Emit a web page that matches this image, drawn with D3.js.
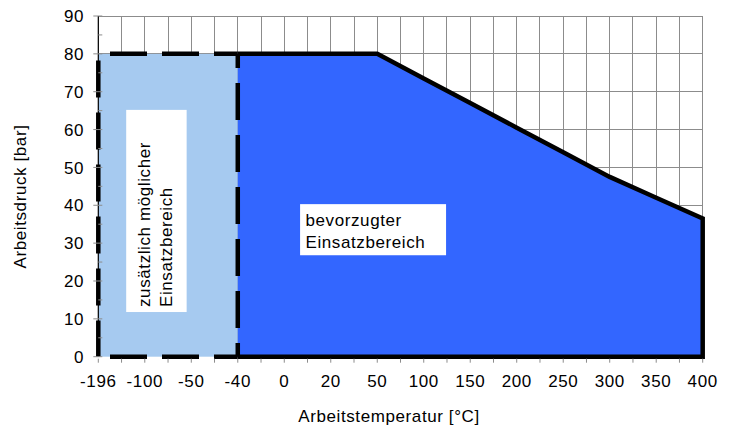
<!DOCTYPE html>
<html>
<head>
<meta charset="utf-8">
<script src="https://cdn.jsdelivr.net/npm/d3@7"></script>
<style>
  body { margin: 0; background: #fff; }
  text { font-family: "Liberation Sans", Arial, sans-serif; font-size: 17px; letter-spacing: 0.6px; fill: #000; }
</style>
</head>
<body>
<svg id="chart"></svg>
<script>
// temperature categories (equally spaced on the chart)
var categories = ["-196", "-100", "-50", "-40", "0", "20", "50", "100", "150", "200", "250", "300", "350", "400"];
// preferred operating range: pressure [bar] per temperature, starts at -40
var preferredTemp = ["-40", "0", "20", "50", "100", "150", "200", "250", "300", "350", "400"];
var preferredPressure = [80, 80, 80, 80, 73.5, 67, 60.5, 54, 47.5, 42, 36.5];
// additionally possible range
var extraTemp = ["-196", "-40"];
var extraPressure = [80, 80];
var yTicks = [0, 10, 20, 30, 40, 50, 60, 70, 80, 90];

var width = 733, height = 428;
var margin = {top: 16, right: 30.3, bottom: 71.3, left: 98.3};

var svg = d3.select("#chart").attr("width", width).attr("height", height);

var x = d3.scalePoint()
    .domain(categories)
    .range([margin.left, width - margin.right]);

// index scale for half steps / annotations
var xi = d3.scaleLinear()
    .domain([0, categories.length - 1])
    .range([margin.left, width - margin.right]);

var y = d3.scaleLinear()
    .domain([0, 90])
    .range([height - margin.bottom, margin.top]);

var gridColor = "#8c8c8c";
var halfSteps = d3.range(0, (categories.length - 1) * 2 + 1).map(function(d) { return d / 2; });

// grid
svg.append("g").selectAll("line.v")
  .data(halfSteps)
  .enter().append("line")
  .attr("x1", function(d) { return xi(d); })
  .attr("x2", function(d) { return xi(d); })
  .attr("y1", y(0)).attr("y2", y(90))
  .attr("stroke", gridColor).attr("stroke-width", 1)
  .attr("shape-rendering", "crispEdges");

svg.append("g").selectAll("line.h")
  .data(yTicks.slice(1))
  .enter().append("line")
  .attr("x1", xi(0)).attr("x2", xi(categories.length - 1))
  .attr("y1", function(d) { return y(d); })
  .attr("y2", function(d) { return y(d); })
  .attr("stroke", gridColor).attr("stroke-width", 1)
  .attr("shape-rendering", "crispEdges");

// extra range (light blue)
svg.append("rect")
  .attr("x", x(extraTemp[0]))
  .attr("y", y(extraPressure[0]))
  .attr("width", x(extraTemp[1]) - x(extraTemp[0]))
  .attr("height", y(0) - y(extraPressure[0]))
  .attr("fill", "#a6caf0");

// preferred range (blue)
var pts = preferredTemp.map(function(t, i) { return [x(t), y(preferredPressure[i])]; });
var area = d3.area()
  .x(function(d) { return d[0]; })
  .y0(y(0))
  .y1(function(d) { return d[1]; });
svg.append("path")
  .datum(pts)
  .attr("d", area)
  .attr("fill", "#3366ff");

// solid outline: top, right side and bottom
var outline = pts.concat([[x(preferredTemp[preferredTemp.length - 1]), y(0)], [x(preferredTemp[0]), y(0)]]);
svg.append("path")
  .attr("d", d3.line()(outline))
  .attr("fill", "none")
  .attr("stroke", "#000")
  .attr("stroke-width", 4.5)
  .attr("stroke-linejoin", "miter");

// dashed outline of the extra range
var ex0 = x(extraTemp[0]), ex1 = x(extraTemp[1]), ey0 = y(0), ey1 = y(extraPressure[0]);
var dashEdges = [
  {x1: ex0, y1: ey1, x2: ex1, y2: ey1, off: 40.3},
  {x1: ex0, y1: ey0, x2: ex1, y2: ey0, off: 40.3},
  {x1: ex0, y1: ey1, x2: ex0, y2: ey0, off: 45.3},
  {x1: ex1, y1: ey0, x2: ex1, y2: ey1, off: 23.3}
];
svg.append("g").selectAll("line")
  .data(dashEdges)
  .enter().append("line")
  .attr("x1", function(d) { return d.x1; })
  .attr("y1", function(d) { return d.y1; })
  .attr("x2", function(d) { return d.x2; })
  .attr("y2", function(d) { return d.y2; })
  .attr("stroke", "#000")
  .attr("stroke-width", 4.5)
  .attr("stroke-dasharray", "37,15")
  .attr("stroke-dashoffset", function(d) { return d.off; });

// left axis line
svg.append("line")
  .attr("x1", margin.left).attr("x2", margin.left)
  .attr("y1", y(0)).attr("y2", y(90))
  .attr("stroke", "#000").attr("stroke-width", 1.2);

// y ticks (major crossing, minor inside)
svg.append("g").selectAll("line")
  .data(yTicks)
  .enter().append("line")
  .attr("x1", margin.left - 5).attr("x2", margin.left + 4)
  .attr("y1", function(d) { return y(d); })
  .attr("y2", function(d) { return y(d); })
  .attr("stroke", gridColor);

svg.append("g").selectAll("line")
  .data(yTicks.slice(1).map(function(d) { return d - 5; }))
  .enter().append("line")
  .attr("x1", margin.left).attr("x2", margin.left + 4)
  .attr("y1", function(d) { return y(d); })
  .attr("y2", function(d) { return y(d); })
  .attr("stroke", gridColor);

// x ticks at half steps
svg.append("g").selectAll("line")
  .data(halfSteps)
  .enter().append("line")
  .attr("x1", function(d) { return xi(d); })
  .attr("x2", function(d) { return xi(d); })
  .attr("y1", y(0) + 2).attr("y2", y(0) + 6)
  .attr("stroke", gridColor);

// tick labels
svg.append("g").selectAll("text")
  .data(yTicks)
  .enter().append("text")
  .attr("x", 84)
  .attr("y", function(d) { return y(d); })
  .attr("dy", "0.36em")
  .attr("text-anchor", "end")
  .text(function(d) { return d; });

svg.append("g").selectAll("text")
  .data(categories)
  .enter().append("text")
  .attr("x", function(d) { return x(d); })
  .attr("y", 387)
  .attr("text-anchor", "middle")
  .text(function(d) { return d; });

// axis titles
svg.append("text")
  .attr("x", 389).attr("y", 421.5)
  .attr("text-anchor", "middle")
  .text("Arbeitstemperatur [°C]");

svg.append("text")
  .attr("transform", "translate(26,196.5) rotate(-90)")
  .attr("text-anchor", "middle")
  .text("Arbeitsdruck [bar]");

// annotation: additional range (rotated)
svg.append("rect")
  .attr("x", xi(0.6)).attr("y", y(65.2))
  .attr("width", xi(1.9) - xi(0.6))
  .attr("height", y(11.8) - y(65.2))
  .attr("fill", "#fff");

var rot = svg.append("text")
  .attr("transform", "translate(150,307) rotate(-90)");
rot.append("tspan").attr("x", 0).attr("y", 0).text("zusätzlich möglicher");
rot.append("tspan").attr("x", 0).attr("y", 22).text("Einsatzbereich");

// annotation: preferred range
svg.append("rect")
  .attr("x", xi(4.34)).attr("y", y(40.3))
  .attr("width", xi(7.48) - xi(4.34))
  .attr("height", y(26.8) - y(40.3))
  .attr("fill", "#fff");

var lbl = svg.append("text");
lbl.append("tspan").attr("x", 305.5).attr("y", 226).text("bevorzugter");
lbl.append("tspan").attr("x", 305.5).attr("y", 248).text("Einsatzbereich");
</script>
</body>
</html>
